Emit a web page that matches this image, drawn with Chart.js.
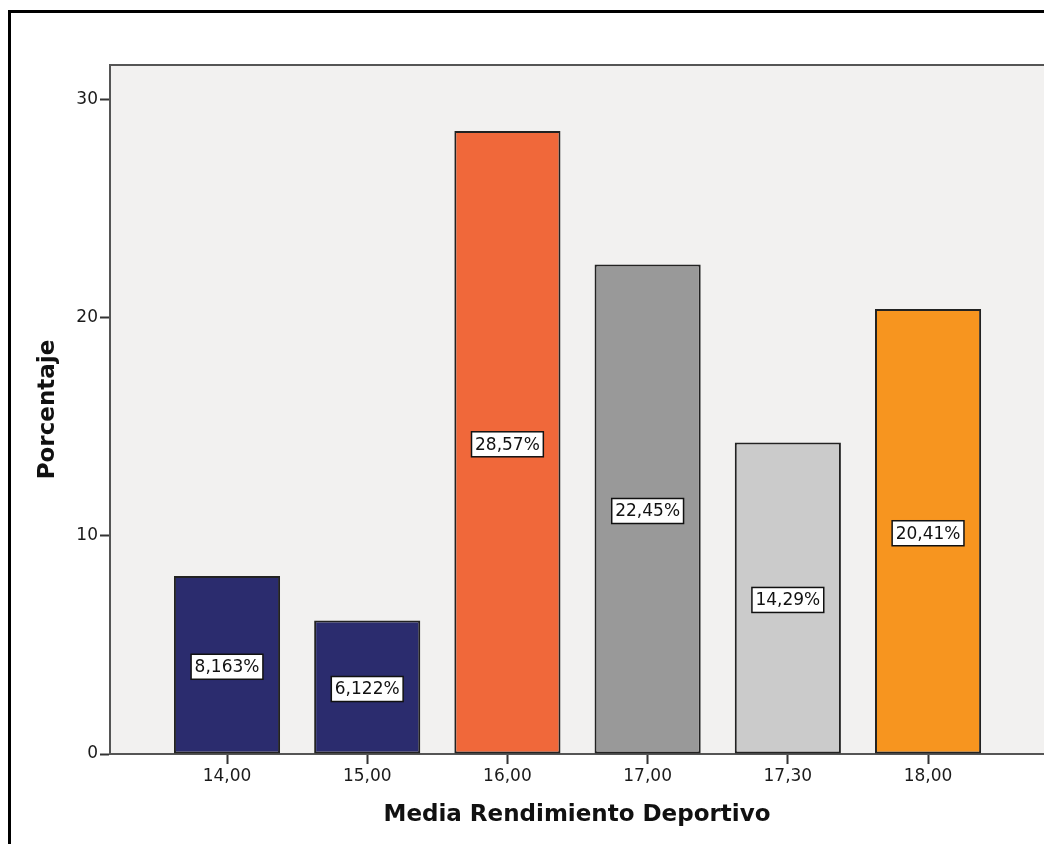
<!DOCTYPE html>
<html>
<head>
<meta charset="utf-8">
<script src="https://cdn.jsdelivr.net/npm/chart.js@4.4.1/dist/chart.umd.min.js"></script>
<style>
  body { margin: 0; background: #fff; }
  canvas { display: block; }
</style>
</head>
<body>
<canvas id="chart" width="1044" height="844"></canvas>
<script>
const categories = ["14,00", "15,00", "16,00", "17,00", "17,30", "18,00"];
const percentages = [8.163, 6.122, 28.57, 22.45, 14.29, 20.41];
const barColors = ["#2b2c6e", "#2b2c6e", "#f0683a", "#999999", "#cbcbcb", "#f7951f"];
const yTicks = [0, 10, 20, 30];

const FONT = '"DejaVu Sans", Verdana, sans-serif';

// grey plot background, top edge and the black frame of the picture
const frame = {
    id: 'frame',
    beforeDraw(chart) {
        const { ctx, chartArea: a } = chart;
        ctx.save();
        ctx.fillStyle = '#fff';
        ctx.fillRect(0, 0, chart.width, chart.height);
        ctx.fillStyle = '#f2f1f0';
        ctx.fillRect(a.left, a.top, a.right - a.left, a.bottom - a.top);
        ctx.strokeStyle = '#555';
        ctx.lineWidth = 2;
        ctx.beginPath();
        ctx.moveTo(a.left, a.top);
        ctx.lineTo(a.right, a.top);
        ctx.stroke();
        ctx.fillStyle = '#000';
        ctx.fillRect(8, 10, 3, chart.height);
        ctx.fillRect(8, 10, chart.width, 3);
        ctx.restore();
    }
};

// white boxes with the percentage in the middle of each bar
const boxLabels = {
    id: 'boxLabels',
    afterDatasetsDraw(chart) {
        const { ctx } = chart;
        const meta = chart.getDatasetMeta(0);
        ctx.save();
        ctx.font = '17px ' + FONT;
        ctx.textAlign = 'center';
        ctx.textBaseline = 'middle';
        meta.data.forEach((bar, i) => {
            const text = percentages[i].toPrecision(4).replace('.', ',') + '%';
            const y = (bar.y + bar.base) / 2 + 2;
            const w = ctx.measureText(text).width + 7;
            const h = 25;
            ctx.fillStyle = '#fff';
            ctx.fillRect(bar.x - w / 2, y - h / 2, w, h);
            ctx.strokeStyle = '#111';
            ctx.lineWidth = 1.5;
            ctx.strokeRect(bar.x - w / 2, y - h / 2, w, h);
            ctx.fillStyle = '#111';
            ctx.fillText(text, bar.x, y + 1);
        });
        ctx.restore();
    }
};

new Chart("chart", {
    type: "bar",
    data: {
        datasets: [{
            data: percentages.map((v, i) => ({ x: i, y: v })),
            backgroundColor: barColors,
            borderColor: '#222',
            borderWidth: 2,
            borderSkipped: false,
            categoryPercentage: 1,
            barPercentage: 0.757
        }]
    },
    options: {
        responsive: false,
        animation: false,
        devicePixelRatio: 1,
        layout: { padding: { top: 65, left: 0, right: 0, bottom: 0 } },
        plugins: {
            legend: { display: false },
            tooltip: { enabled: false }
        },
        scales: {
            x: {
                type: 'linear',
                offset: false,
                min: -0.8345,
                max: 5.827,
                afterBuildTicks: s => { s.ticks = categories.map((c, i) => ({ value: i })); },
                afterFit: s => { s.height = 90; },
                ticks: {
                    callback: v => categories[v],
                    font: { family: FONT, size: 17 },
                    color: '#1a1a1a',
                    padding: 2,
                    maxRotation: 0,
                    autoSkip: false
                },
                grid: { offset: false, drawOnChartArea: false, drawTicks: true, tickLength: 10, tickColor: '#333', tickWidth: 2 },
                border: { color: '#555', width: 2 },
                title: {
                    display: true,
                    text: 'Media Rendimiento Deportivo',
                    font: { family: FONT, size: 23, weight: 'bold' },
                    color: '#111',
                    padding: { top: 0, bottom: 15 }
                }
            },
            y: {
                min: 0,
                max: 31.6,
                afterBuildTicks: s => { s.ticks = yTicks.map(v => ({ value: v })); },
                afterFit: s => { s.width = 110; },
                ticks: {
                    font: { family: FONT, size: 17 },
                    color: '#1a1a1a',
                    padding: 2
                },
                grid: { drawOnChartArea: false, drawTicks: true, tickLength: 10, tickColor: '#333', tickWidth: 2 },
                border: { color: '#555', width: 2 },
                title: {
                    display: true,
                    text: 'Porcentaje',
                    font: { family: FONT, size: 23, weight: 'bold' },
                    color: '#111',
                    padding: { top: 34, bottom: 0 }
                }
            }
        }
    },
    plugins: [frame, boxLabels]
});
</script>
</body>
</html>
